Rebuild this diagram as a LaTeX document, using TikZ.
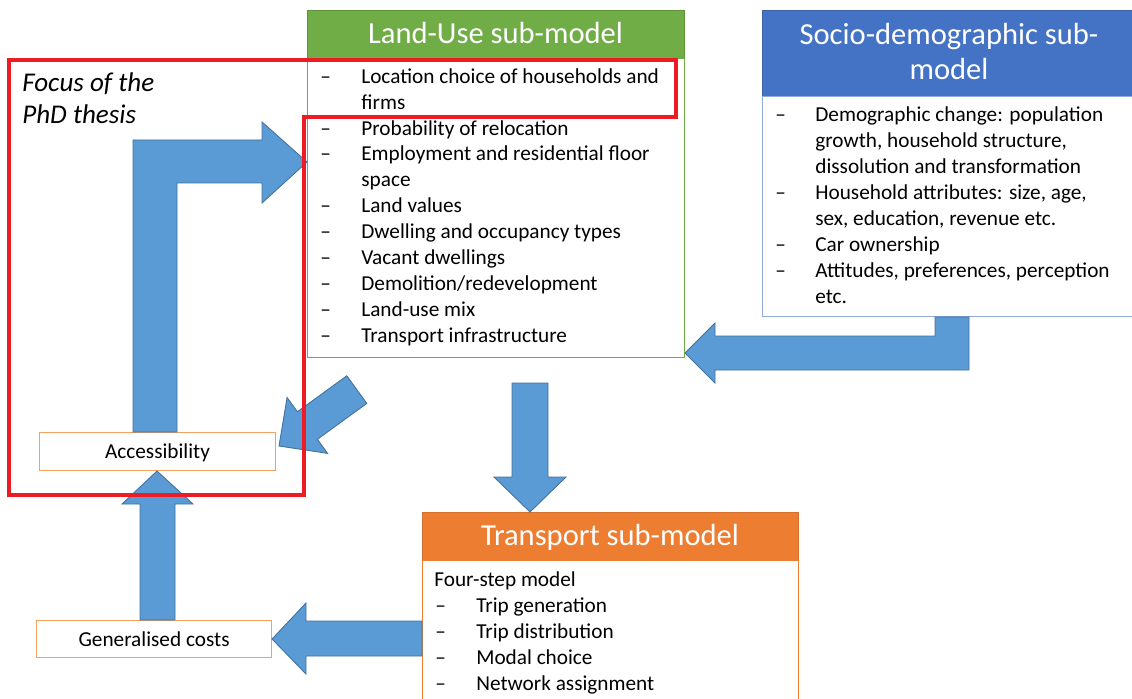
\documentclass[tikz,border=0pt]{standalone}
\usepackage{fontspec}
\setmainfont{Carlito}
\definecolor{lugreen}{HTML}{70AD47}
\definecolor{sdblue}{HTML}{4472C4}
\definecolor{sdline}{HTML}{8FAADC}
\definecolor{tporange}{HTML}{ED7D31}
\definecolor{boxorange}{HTML}{F4A15F}
\definecolor{arrowblue}{HTML}{5B9BD5}
\definecolor{arrowedge}{HTML}{41719C}
\definecolor{focusred}{HTML}{ED1C24}
\newcommand{\pxu}{0.02cm}
\tikzset{
  headbox/.style={anchor=north west, inner sep=0pt, line width=0.6pt},
  luhead/.style={headbox, fill=lugreen, draw=lugreen!85!black, minimum width=377*\pxu, minimum height=48*\pxu},
  lubody/.style={headbox, fill=white, draw=lugreen, minimum width=377*\pxu, minimum height=299*\pxu},
  sdhead/.style={headbox, fill=sdblue, draw=sdblue!85!black, minimum width=374*\pxu, minimum height=86*\pxu},
  sdbody/.style={headbox, fill=white, draw=sdline, minimum width=374*\pxu, minimum height=220*\pxu},
  tphead/.style={headbox, fill=tporange, draw=tporange!90!black, minimum width=376*\pxu, minimum height=48*\pxu},
  tpbody/.style={headbox, fill=white, draw=tporange, minimum width=376*\pxu, minimum height=160*\pxu},
  headtext/.style={anchor=base, inner sep=0pt, text=white, align=center, font=\fontsize{17.4}{20.4}\selectfont},
  entry/.style={anchor=base west, inner sep=0pt, font=\fontsize{12.1}{14.7}\selectfont},
  resultbox/.style={headbox, fill=white, draw=boxorange, text height=8pt, text depth=0pt,
    font=\fontsize{12.1}{14}\selectfont},
  blockarrow/.style={fill=arrowblue, draw=arrowedge, line width=0.5pt, line join=miter},
  focusline/.style={draw=focusred, line width=2.3pt, line join=miter}
}
\begin{document}
\begin{tikzpicture}[x=0.02cm, y=-0.02cm]
\useasboundingbox (0,0) rectangle (1132,699);

% Land-Use sub-model
\node[luhead] (luhead) at (307,10) {};
\node[headtext] (lutitle) at (495.5,43.3) {Land-Use sub-model};
\node[lubody] (lubody) at (307,58) {};
\foreach \yy/\txt [count=\i] in {83.3/Location choice of households and, 109.2/firms,
    135.1/Probability of relocation, 161/Employment and residential floor, 186.9/space,
    212.8/Land values, 238.7/Dwelling and occupancy types, 264.6/Vacant dwellings,
    290.5/{Demolition/redevelopment}, 316.4/Land-use mix, 342.3/Transport infrastructure}
  \node[entry] (lu\i) at (361,\yy) {\txt};
\foreach \yy [count=\i] in {83.3,135.1,161,212.8,238.7,264.6,290.5,316.4,342.3}
  \node[entry] (ludash\i) at (320,\yy) {\textendash};

% Socio-demographic sub-model
\node[sdhead] (sdhead) at (762,10) {};
\node[headtext] (sdtitle) at (949,80) {Socio-demographic sub-\\model};
\node[sdbody] (sdbody) at (762,96) {};
\foreach \yy/\txt [count=\i] in {121.7/Demographic change: population,
    147.6/{growth, household structure,}, 173.5/dissolution and transformation,
    199.4/{Household attributes: size, age,}, 225.3/{sex, education, revenue etc.},
    251.2/Car ownership, 277.1/{Attitudes, preferences, perception}, 303/etc.}
  \node[entry] (sd\i) at (815,\yy) {\txt};
\foreach \yy [count=\i] in {121.7,199.4,251.2,277.1}
  \node[entry] (sddash\i) at (775,\yy) {\textendash};

% Transport sub-model
\node[tphead] (tphead) at (422,512) {};
\node[headtext] (tptitle) at (610,545) {Transport sub-model};
\node[tpbody] (tpbody) at (422,560) {};
\node[entry] (tp0) at (434,586) {Four-step model};
\foreach \yy/\txt [count=\i] in {612/Trip generation, 638/Trip distribution,
    664/Modal choice, 690/Network assignment}
  {\node[entry] (tpdash\i) at (435,\yy) {\textendash};
   \node[entry] (tp\i) at (476,\yy) {\txt};}

% Accessibility and generalised costs
\node[resultbox, minimum width=236*\pxu, minimum height=38*\pxu] (acc) at (39,432) {Accessibility};
\node[resultbox, minimum width=235*\pxu, minimum height=37*\pxu] (gc) at (36,620) {Generalised costs};

% Block arrows
\draw[blockarrow] (133,0 |- acc.north) -- (133,140) -- (262,140) -- (262,122)
  -- (lubody.west |- 0,162) -- (262,203) -- (262,183) -- (177,183) -- (177,0 |- acc.north) -- cycle;
\draw[blockarrow] (512,383) -- (548,383) -- (548,477) -- (566,477)
  -- (530,0 |- tphead.north) -- (494,477) -- (512,477) -- cycle;
\draw[blockarrow] (935,0 |- sdbody.south) -- (969,0 |- sdbody.south) -- (969,370) -- (715,370)
  -- (715,383) -- (lubody.east |- 0,353) -- (715,323) -- (715,336) -- (935,336) -- cycle;
\draw[blockarrow] (346.8,375.8) -- (366.8,403.4) -- (317.4,439.3) -- (327.6,453.4)
  -- (279,446) -- (287.1,397.5) -- (297.4,411.7) -- cycle;
\draw[blockarrow] (tpbody.west |- 0,621) -- (306,621) -- (306,603) -- (gc.east)
  -- (306,674) -- (306,656) -- (tpbody.west |- 0,656) -- cycle;
\draw[blockarrow] (140,0 |- gc.north) -- (140,504) -- (122,504) -- (157,0 |- acc.south)
  -- (193,504) -- (175,504) -- (175,0 |- gc.north) -- cycle;

% Focus of the PhD thesis
\node[anchor=base west, inner sep=0pt, align=left, font=\fontsize{15.4}{18.7}\selectfont\itshape]
  (focus) at (22,124) {Focus of the\\PhD thesis};
\draw[focusline] (9,60) -- (676,60) -- (676,117) -- (304,117) -- (304,495) -- (9,495) -- cycle;
\end{tikzpicture}
\end{document}
